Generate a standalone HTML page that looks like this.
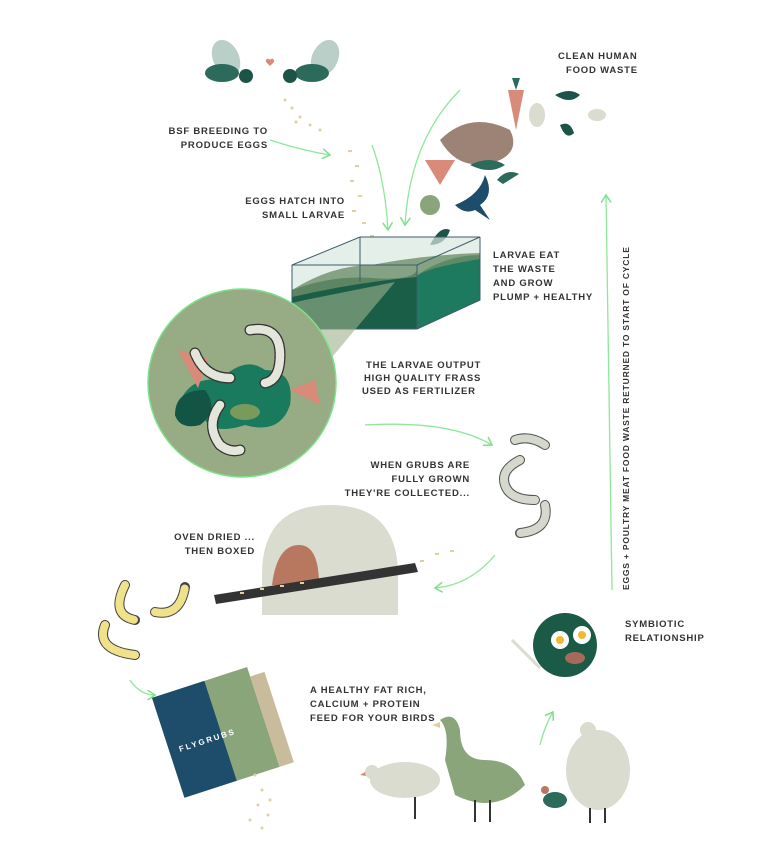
<!DOCTYPE html>
<html><head><meta charset="utf-8"><style>
html,body{margin:0;padding:0;background:#fff;}
svg{display:block}
text{font-family:"Liberation Sans",sans-serif;font-weight:bold;font-size:9.5px;fill:#333;letter-spacing:0.8px}
</style></head><body>
<svg width="778" height="847" viewBox="0 0 778 847" xmlns="http://www.w3.org/2000/svg">
<defs><marker id="a" markerWidth="8" markerHeight="8" refX="6" refY="4" orient="auto"><path d="M0,0 L6,4 L0,8" fill="none" stroke="#7de38a" stroke-width="1.2"/></marker></defs>
<g fill="none" stroke="#8ee79a" stroke-width="1.3" marker-end="url(#a)">
<path d="M270,140 Q300,150 330,155"/>
<path d="M372,145 Q385,180 388,230"/>
<path d="M460,90 Q410,140 405,225"/>
<path d="M365,425 Q450,420 492,445"/>
<path d="M495,555 Q470,585 435,588"/>
<path d="M130,680 Q140,695 155,695"/>
<path d="M540,745 Q545,725 553,712"/>
<path d="M612,590 L606,195"/>
</g>
<!-- flies -->
<g>
<ellipse cx="226" cy="58" rx="13" ry="19" fill="#b9cfc8" transform="rotate(-25 226 58)"/>
<ellipse cx="222" cy="73" rx="17" ry="9" fill="#2c6a5b"/>
<circle cx="246" cy="76" r="7" fill="#1d5448"/>
<ellipse cx="325" cy="58" rx="13" ry="19" fill="#b9cfc8" transform="rotate(25 325 58)"/>
<ellipse cx="312" cy="73" rx="17" ry="9" fill="#2c6a5b"/>
<circle cx="290" cy="76" r="7" fill="#1d5448"/>
<path d="M266,62 l4,4 l4,-4 a2,2 0 0 0 -4,-2 a2,2 0 0 0 -4,2z" fill="#d98a78"/>
</g>
<g fill="#e3cf9a">
<circle cx="285" cy="100" r="1.5"/><circle cx="292" cy="108" r="1.5"/><circle cx="300" cy="117" r="1.5"/><circle cx="310" cy="125" r="1.5"/><circle cx="320" cy="130" r="1.5"/><circle cx="296" cy="122" r="1.5"/>
<rect x="348" y="150" width="4" height="2"/><rect x="355" y="165" width="4" height="2"/><rect x="350" y="180" width="4" height="2"/><rect x="358" y="195" width="4" height="2"/><rect x="352" y="210" width="4" height="2"/><rect x="362" y="222" width="4" height="2"/><rect x="370" y="235" width="4" height="2"/>
</g>
<!-- food -->
<g>
<path d="M440,140 q30,-30 70,-10 q10,20 -10,30 q-40,15 -60,-20z" fill="#9c8376"/>
<path d="M508,90 l8,40 l8,-40z" fill="#d98a78"/><path d="M512,78 l4,12 l4,-12" fill="#2c6a5b"/>
<ellipse cx="537" cy="115" rx="8" ry="12" fill="#d9dccf"/>
<path d="M555,95 q15,-8 25,0 q-10,10 -25,0z" fill="#1d5448"/>
<ellipse cx="597" cy="115" rx="9" ry="6" fill="#d9dccf"/>
<path d="M560,125 q10,-5 14,8 q-8,8 -14,-8z" fill="#1d5448"/>
<path d="M425,160 l30,0 l-15,25z" fill="#d98a78"/>
<path d="M470,165 q20,-10 35,0 q-15,10 -35,0z" fill="#2c6a5b"/>
<path d="M455,205 q25,-10 30,-30 q10,20 -5,30 l10,15 l-15,-10 q-10,5 -20,-5z" fill="#1d4d6b"/>
<circle cx="430" cy="205" r="10" fill="#8ba57b"/>
<path d="M430,245 q10,-20 20,-15 q-5,15 -20,15z" fill="#1d5448"/>
<path d="M497,180 q10,-12 22,-6 l-16,10z" fill="#2c6a5b"/>
</g>
<!-- box -->
<path d="M292,265 L360,237 L480,237 L480,300 L417,329 L292,329Z" fill="#d9e8df" opacity="0.7"/>
<path d="M292,290 q40,-15 80,-12 q40,3 45,-8 l0,59 L292,329z" fill="#1b5e48"/>
<path d="M417,275 q30,-20 63,-20 L480,300 L417,329z" fill="#1e7a5e"/>
<path d="M292,290 q40,-25 80,-25 q50,-10 108,-12 l0,6 q-60,10 -63,18 q-60,5 -125,20z" fill="#6e8f6a" opacity="0.8"/>
<g fill="none" stroke="#3d5e6a" stroke-width="1">
<path d="M292,265 L360,237 L480,237 L417,265 Z"/><path d="M292,265 L292,329 L417,329 L417,265"/><path d="M417,329 L480,300 L480,237"/><path d="M360,237 L360,282"/>
</g>
<path d="M305,300 L395,282 L250,455 L175,330Z" fill="#9db08c" opacity="0.6"/>
<!-- circle -->
<circle cx="242" cy="383" r="94" fill="#97ab84" stroke="#7de38a" stroke-width="1.5"/>
<path d="M175,415 q10,-40 45,-35 q25,-25 45,-10 q30,0 25,35 q-10,30 -45,20 q-30,10 -40,-5 q-25,10 -30,-5z" fill="#1a7a5e"/>
<path d="M175,415 q0,-25 30,-25 q15,20 -5,35 q-20,5 -25,-10z" fill="#135545"/>
<path d="M178,350 l30,8 l-10,30 z" fill="#d98a78"/>
<path d="M290,390 l25,-10 l5,25 z" fill="#d98a78"/>
<ellipse cx="245" cy="412" rx="15" ry="8" fill="#7a9a5c"/>
<g fill="none" stroke="#333" stroke-width="11" stroke-linecap="round"><path d="M250,330 q30,-5 30,25 q0,25 -15,28"/><path d="M195,353 q10,25 35,25"/><path d="M220,405 q-15,20 0,40 q10,8 20,5"/></g>
<g fill="none" stroke="#e4e6dc" stroke-width="8.5" stroke-linecap="round" stroke-dasharray="3 1.5"><path d="M250,330 q30,-5 30,25 q0,25 -15,28"/><path d="M195,353 q10,25 35,25"/><path d="M220,405 q-15,20 0,40 q10,8 20,5"/></g>
<!-- grubs collected -->
<g fill="none" stroke="#555" stroke-width="10" stroke-linecap="round"><path d="M515,440 q15,-5 30,5"/><path d="M520,460 q-20,10 -15,25 q5,15 30,15"/><path d="M545,505 q5,25 -25,28"/></g>
<g fill="none" stroke="#d5d8cc" stroke-width="8" stroke-linecap="round" stroke-dasharray="3 1.5"><path d="M515,440 q15,-5 30,5"/><path d="M520,460 q-20,10 -15,25 q5,15 30,15"/><path d="M545,505 q5,25 -25,28"/></g>
<!-- oven -->
<path d="M262,615 L262,575 q0,-70 68,-70 q68,0 68,70 L398,615z" fill="#d9dccf"/>
<path d="M272,585 q5,-40 27,-40 q20,0 20,40z" fill="#b8785f"/>
<path d="M214,595 L415,563 L418,572 L216,604z" fill="#333"/>
<g fill="#e3cf9a"><rect x="240" y="592" width="4" height="2"/><rect x="260" y="588" width="4" height="2"/><rect x="280" y="585" width="4" height="2"/><rect x="300" y="582" width="4" height="2"/><rect x="420" y="560" width="4" height="2"/><rect x="435" y="553" width="4" height="2"/><rect x="450" y="550" width="4" height="2"/></g>
<!-- yellow grubs -->
<g fill="none" stroke="#444" stroke-width="10" stroke-linecap="round"><path d="M125,585 q-15,30 10,35"/><path d="M155,612 q25,5 30,-25"/><path d="M105,625 q-10,25 30,30"/></g>
<g fill="none" stroke="#f0e28a" stroke-width="8" stroke-linecap="round" stroke-dasharray="3 1.5"><path d="M125,585 q-15,30 10,35"/><path d="M155,612 q25,5 30,-25"/><path d="M105,625 q-10,25 30,30"/></g>
<!-- bag -->
<g transform="rotate(-18 215 730)">
<rect x="165" y="680" width="100" height="105" fill="#8ba57b"/>
<rect x="165" y="680" width="55" height="105" fill="#1e4d6b"/>
<rect x="265" y="690" width="15" height="95" fill="#c9bc9c"/>
<text x="175" y="740" fill="#fff" style="fill:#fff;font-size:8px;letter-spacing:2px">FLYGRUBS</text>
</g>
<g fill="#e3cf9a"><circle cx="255" cy="775" r="1.5"/><circle cx="262" cy="790" r="1.5"/><circle cx="258" cy="805" r="1.5"/><circle cx="268" cy="815" r="1.5"/><circle cx="262" cy="828" r="1.5"/><circle cx="250" cy="820" r="1.5"/><circle cx="270" cy="800" r="1.5"/></g>
<!-- plate -->
<circle cx="565" cy="645" r="32" fill="#1b5a47"/>
<circle cx="560" cy="640" r="9" fill="#fff"/><circle cx="560" cy="640" r="4" fill="#f2b92e"/>
<circle cx="582" cy="635" r="9" fill="#fff"/><circle cx="582" cy="635" r="4" fill="#f2b92e"/>
<ellipse cx="575" cy="658" rx="10" ry="6" fill="#a56a5a"/>
<path d="M512,640 l28,28" stroke="#d9dccf" stroke-width="3"/>
<!-- birds -->
<ellipse cx="405" cy="780" rx="35" ry="18" fill="#d9dccf"/><circle cx="372" cy="772" r="7" fill="#d9dccf"/><path d="M365,772 l-5,3 l6,1z" fill="#d98a78"/>
<path d="M445,760 q5,-30 -5,-40 q15,-10 20,10 q0,30 25,30 q30,0 40,25 q-30,30 -70,10z" fill="#8ba57b"/><path d="M440,722 l-8,3 l8,3z" fill="#e3cf9a"/>
<ellipse cx="598" cy="770" rx="32" ry="40" fill="#d9dccf"/><circle cx="588" cy="730" r="8" fill="#d9dccf"/>
<ellipse cx="555" cy="800" rx="12" ry="8" fill="#2c6a5b"/><circle cx="545" cy="790" r="4" fill="#b8785f"/>
<g stroke="#333" stroke-width="2"><path d="M415,797 v22"/><path d="M475,800 v22"/><path d="M490,800 v22"/><path d="M590,808 v15"/><path d="M605,808 v15"/></g>
<!-- texts -->
<text x="558" y="59">CLEAN HUMAN</text><text x="566" y="73">FOOD WASTE</text>
<text x="268" y="134" text-anchor="end">BSF BREEDING TO</text><text x="268" y="148" text-anchor="end">PRODUCE EGGS</text>
<text x="345" y="204" text-anchor="end">EGGS HATCH INTO</text><text x="345" y="218" text-anchor="end">SMALL LARVAE</text>
<text x="493" y="258">LARVAE EAT</text><text x="493" y="272">THE WASTE</text><text x="493" y="286">AND GROW</text><text x="493" y="300">PLUMP + HEALTHY</text>
<text x="366" y="368">THE LARVAE OUTPUT</text><text x="364" y="381">HIGH QUALITY FRASS</text><text x="362" y="394">USED AS FERTILIZER</text>
<text x="470" y="468" text-anchor="end">WHEN GRUBS ARE</text><text x="470" y="482" text-anchor="end">FULLY GROWN</text><text x="470" y="496" text-anchor="end">THEY'RE COLLECTED...</text>
<text x="255" y="540" text-anchor="end">OVEN DRIED ...</text><text x="255" y="554" text-anchor="end">THEN BOXED</text>
<text x="625" y="627">SYMBIOTIC</text><text x="625" y="641">RELATIONSHIP</text>
<text x="310" y="693">A HEALTHY FAT RICH,</text><text x="310" y="707">CALCIUM + PROTEIN</text><text x="310" y="721">FEED FOR YOUR BIRDS</text>
<text transform="translate(629,590) rotate(-90)" style="font-size:8.5px">EGGS + POULTRY MEAT FOOD WASTE RETURNED TO START OF CYCLE</text>
</svg>
</body></html>
